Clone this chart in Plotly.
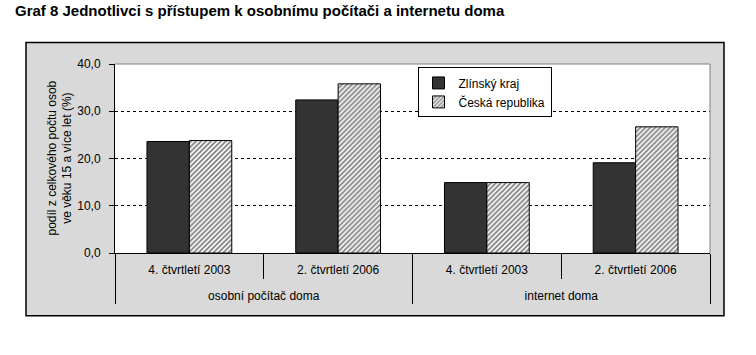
import plotly.graph_objects as go

groups = ["osobní počítač doma", "osobní počítač doma", "internet doma", "internet doma"]
periods = ["4. čtvrtletí 2003", "2. čtvrtletí 2006", "4. čtvrtletí 2003", "2. čtvrtletí 2006"]
zlinsky = [23.6, 32.4, 14.9, 19.1]
cr = [23.8, 35.8, 14.9, 26.7]
series_names = ["Zlínský kraj", "Česká republika"]
title_text = "Graf 8 Jednotlivci s přístupem k osobnímu počítači a internetu doma"
ytitle_text = "podíl z celkového počtu osob<br>ve věku 15 a více let (%)"

FONT = "Liberation Sans, Arial, sans-serif"

W, H = 756, 355
L, R, T, B = 115, 710, 63.5, 253
pw, ph = R - L, B - T

def px(x):
    return (x - L) / pw

def py(y):
    return (B - y) / ph

# outer category level pushed one line lower, as in the reference
xcats = [["<br>" + g for g in groups], periods]

fig = go.Figure()
fig.add_trace(go.Bar(
    x=xcats, y=zlinsky, name=series_names[0],
    marker=dict(color="#333333", line=dict(color="black", width=1)),
))
fig.add_trace(go.Bar(
    x=xcats, y=cr, name=series_names[1],
    marker=dict(color="white", line=dict(color="black", width=1),
                pattern=dict(shape="/", fgcolor="black", bgcolor="white", size=3.5, solidity=0.5)),
))

fig.update_layout(
    width=W, height=H,
    margin=dict(l=L, r=W - R, t=T, b=H - B, pad=0),
    paper_bgcolor="white", plot_bgcolor="white",
    separators=", ",
    font=dict(family=FONT, size=12, color="black"),
    barmode="group", bargap=0.43, bargroupgap=0,
    showlegend=True,
    legend=dict(x=px(484.5), y=py(92), xanchor="center", yanchor="middle",
                bgcolor="white", bordercolor="black", borderwidth=1,
                font=dict(family=FONT, size=12, color="black"),
                tracegroupgap=0),
    xaxis=dict(type="multicategory", showline=True, linecolor="black", linewidth=1,
               ticks="outside", tickson="boundaries", ticklen=25, tickcolor="black",
               showdividers=True, dividercolor="black", dividerwidth=1,
               ticklabelstandoff=6,
               tickfont=dict(family=FONT, size=12, color="black"),
               showgrid=False, fixedrange=True),
    yaxis=dict(range=[0, 40], dtick=10, tickformat=".1f", showline=True,
               linecolor="black", linewidth=1, ticks="outside", ticklen=5,
               tickcolor="black", showgrid=True, gridcolor="black", griddash="3px,3px",
               gridwidth=1, zeroline=False, ticklabelstandoff=6,
               tickfont=dict(family=FONT, size=12, color="black"), fixedrange=True),
    shapes=[
        dict(type="rect", xref="paper", yref="paper", x0=px(26), x1=px(724), y0=py(316), y1=py(42),
             fillcolor="#d9d9d9", line=dict(color="black", width=1.5), layer="below"),
        dict(type="rect", xref="paper", yref="paper", x0=0, x1=1, y0=0, y1=1,
             fillcolor="white", line=dict(width=0), layer="below"),
        dict(type="line", xref="paper", yref="paper", x0=0, x1=1, y0=1, y1=1,
             line=dict(color="#808080", width=1), layer="above"),
        dict(type="line", xref="paper", yref="paper", x0=1, x1=1, y0=0, y1=1,
             line=dict(color="#808080", width=1), layer="above"),
    ],
    annotations=[
        dict(text="<b>" + title_text + "</b>", xref="paper", yref="paper",
             x=px(13), y=py(10), xanchor="left", yanchor="middle", showarrow=False,
             font=dict(family=FONT, size=15, color="black")),
        dict(text=ytitle_text, xref="paper", yref="paper", x=px(59), y=0.5,
             xanchor="center", yanchor="middle", textangle=-90, showarrow=False,
             font=dict(family=FONT, size=12, color="black")),
    ],
)

# remove the browser's default 8px body margin so the figure fills the window
fig.write_html("out.html", config={"displayModeBar": False},
               post_script="document.body.style.margin='0';")
